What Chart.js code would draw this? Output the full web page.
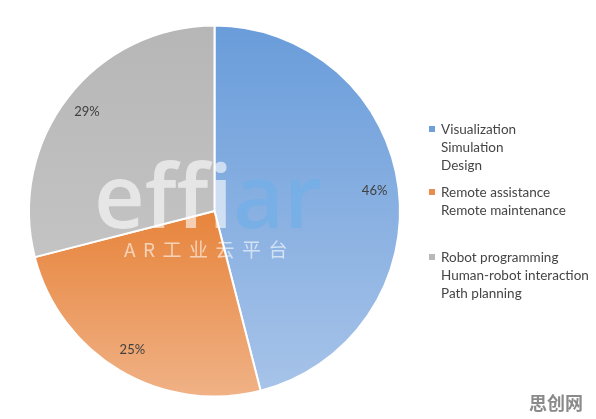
<!DOCTYPE html>
<html>
<head>
<meta charset="utf-8">
<script src="https://cdn.jsdelivr.net/npm/chart.js@4.4.1/dist/chart.umd.min.js"></script>
<style>
  html, body { margin: 0; padding: 0; background: #fff; }
  #wrap { position: relative; width: 596px; height: 419px; overflow: hidden; }
  #pie { position: absolute; left: 0; top: 0; }
  .legend-item { position: absolute; left: 429px; font-family: Lato, "Open Sans", sans-serif; font-size: 13.5px; color: #454545; line-height: 18px; }
  .legend-item .box { position: absolute; left: 0; top: 6px; width: 6px; height: 6px; }
  .legend-item .txt { margin-left: 12px; white-space: nowrap; }
  .wm { position: absolute; pointer-events: none; white-space: nowrap; }
</style>
</head>
<body>
<div id="wrap">
  <canvas id="pie" width="596" height="419"></canvas>
  <div id="legend"></div>
  <div class="wm" style="left:94px; top:142px; font-family:'Open Sans', sans-serif; font-weight:600; font-size:88px; line-height:104px;">
    <span style="color:rgba(255,255,255,0.6)">eff</span><span style="color:rgba(255,255,255,0.45)">i</span><span style="color:rgba(110,175,232,0.65)">ar</span>
  </div>
  <div class="wm" style="left:124px; top:235px; font-family:'Noto Sans CJK SC', sans-serif; font-size:19px; letter-spacing:7.5px; color:rgba(255,255,255,0.6);">AR工业云平台</div>
  <div class="wm" style="left:529px; top:389px; font-family:'Noto Sans CJK SC', sans-serif; font-weight:bold; font-size:18px; color:#8a8a8a;">思创网</div>
</div>
<script>
var categories = [
    ['Visualization', 'Simulation', 'Design'],
    ['Remote assistance', 'Remote maintenance'],
    ['Robot programming', 'Human-robot interaction', 'Path planning']
];
var shares = [46, 25, 29];
var pctLabels = ['46%', '25%', '29%'];
var legendColors = ['#6f9fd8', '#ea8c4e', '#b8b8b8'];
var legendTops = [120, 183, 248];

// gradient stops for each slice (top of pie -> bottom of pie)
var gradStops = [
    [[0, '#699cda'], [1, '#a8c4e9']],
    [[0.5, '#e7843c'], [1, '#f0b286']],
    [[0, '#b6b6b6'], [0.65, '#c4c4c4']]
];

var legendEl = document.getElementById('legend');
for (var i = 0; i < categories.length; i++) {
    var item = document.createElement('div');
    item.className = 'legend-item';
    item.style.top = legendTops[i] + 'px';
    item.innerHTML = '<span class="box" style="background:' + legendColors[i] + '"></span>' +
        '<div class="txt">' + categories[i].join('<br>') + '</div>';
    legendEl.appendChild(item);
}

var pctPlugin = {
    id: 'pctPlugin',
    afterDatasetsDraw: function (chart) {
        var ctx = chart.ctx;
        var meta = chart.getDatasetMeta(0);
        ctx.save();
        ctx.font = '13px Lato, "Open Sans", sans-serif';
        ctx.fillStyle = '#404040';
        ctx.textAlign = 'center';
        ctx.textBaseline = 'middle';
        meta.data.forEach(function (arc, idx) {
            var p = arc.getProps(['x', 'y', 'startAngle', 'endAngle', 'outerRadius'], true);
            var mid = (p.startAngle + p.endAngle) / 2;
            var r = p.outerRadius * 0.87;
            ctx.fillText(pctLabels[idx], p.x + Math.cos(mid) * r, p.y + Math.sin(mid) * r);
        });
        ctx.restore();
    }
};

var ctx = document.getElementById('pie').getContext('2d');
var pie = new Chart(ctx, {
    type: 'pie',
    data: {
        labels: categories.map(function (c) { return c.join(' / '); }),
        datasets: [{
            data: shares,
            backgroundColor: function (c) {
                var area = c.chart.chartArea;
                if (!area) return legendColors[c.dataIndex];
                var g = c.chart.ctx.createLinearGradient(0, area.top, 0, area.bottom);
                gradStops[c.dataIndex].forEach(function (s) { g.addColorStop(s[0], s[1]); });
                return g;
            },
            borderColor: '#ffffff',
            borderWidth: 2
        }]
    },
    options: {
        responsive: false,
        animation: false,
        layout: { padding: { left: 28, right: 195, top: 24, bottom: 21 } },
        plugins: {
            legend: { display: false },
            tooltip: { enabled: false }
        }
    },
    plugins: [pctPlugin]
});
</script>
</body>
</html>
